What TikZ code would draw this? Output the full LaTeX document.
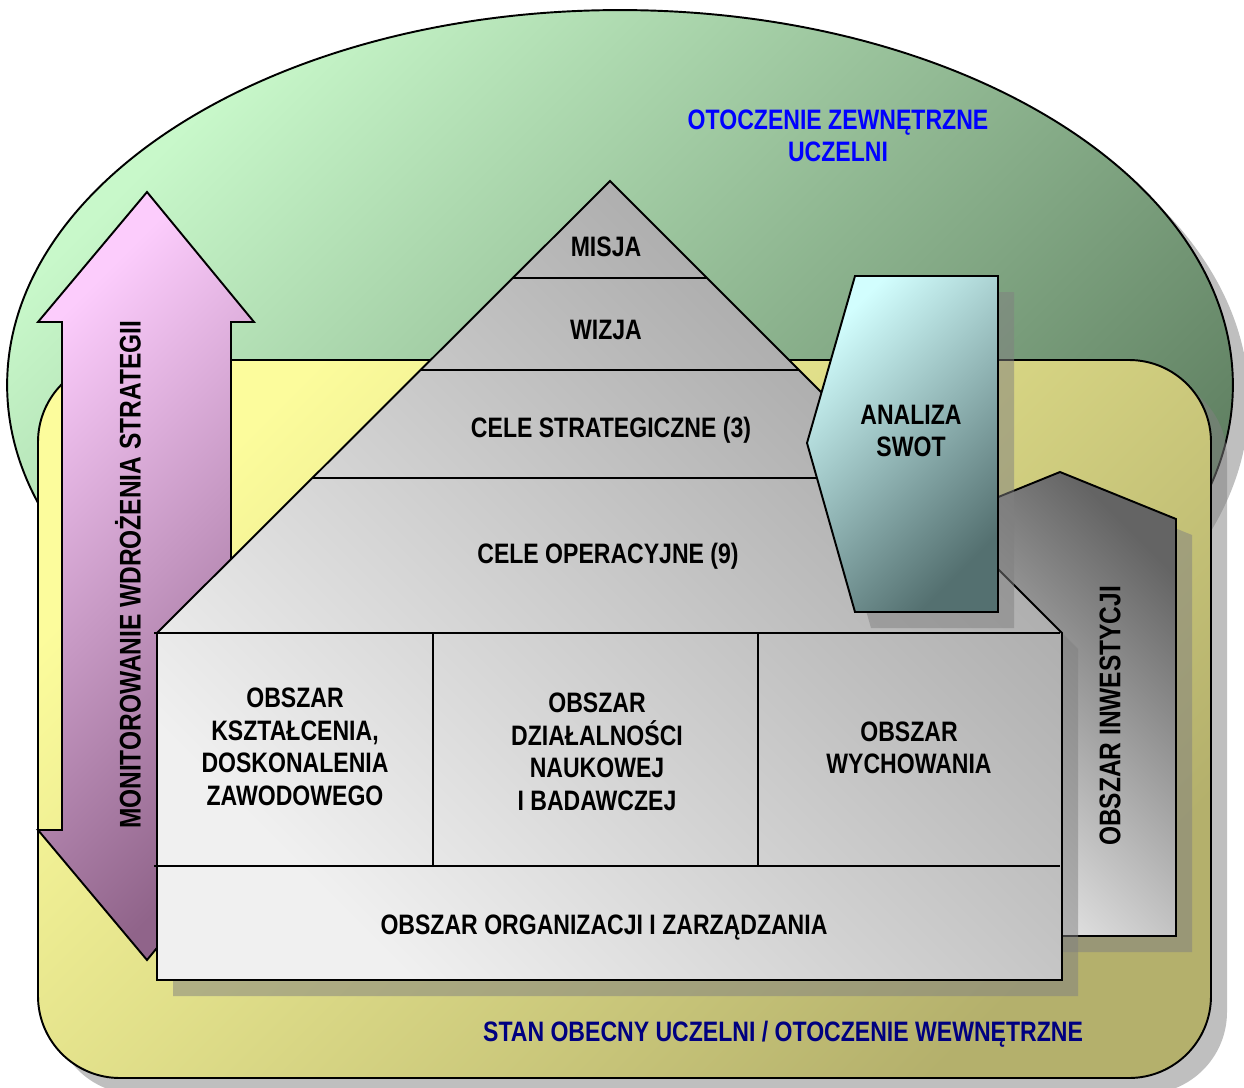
\documentclass[tikz,border=0pt]{standalone}
\usepackage{fontspec}
\setmainfont{Liberation Sans}[FakeStretch=0.82]
\definecolor{envlight}{HTML}{C8F8CA}
\definecolor{envdark}{HTML}{5E7E60}
\definecolor{unilight}{HTML}{FCFC9C}
\definecolor{unidark}{HTML}{B4B06C}
\definecolor{monlight}{HTML}{FCCCFC}
\definecolor{mondark}{HTML}{90648A}
\definecolor{swotlight}{HTML}{D2FEFE}
\definecolor{swotdark}{HTML}{547070}
\definecolor{houselight}{HTML}{F0F0F0}
\definecolor{housedark}{HTML}{A2A2A2}
\definecolor{invlight}{HTML}{E6E6E6}
\definecolor{invdark}{HTML}{646464}
\definecolor{stannavy}{HTML}{000080}
\tikzset{
  shapeline/.style={draw=black, line width=1.1pt, line join=miter},
  shadowfill/.style={fill=gray, opacity=0.5},
  boxtext/.style={font=\fontsize{16}{18.5}\selectfont\bfseries, align=center, inner sep=0pt},
  sidetext/.style={font=\fontsize{17}{20}\selectfont\bfseries, rotate=90, inner sep=0pt}
}
\begin{document}
\begin{tikzpicture}[x=0.02cm,y=-0.02cm]
  \useasboundingbox (0,0) rectangle (1244,1088);
  % otoczenie zewnetrzne
  \fill[shadowfill] (636,401) ellipse [x radius=12.26cm, y radius=7.5cm];
  \path[shapeline, top color=envlight, bottom color=envdark, shading angle=45]
    (620,385) ellipse [x radius=12.26cm, y radius=7.5cm];
  % uczelnia
  \fill[shadowfill, rounded corners=1.64cm] (54,376) rectangle (1227,1094);
  \path[shapeline, rounded corners=1.64cm, top color=unilight, bottom color=unidark, shading angle=45]
    (38,360) rectangle (1211,1078);
  % monitorowanie
  \path[shapeline, top color=monlight, bottom color=mondark, shading angle=45]
    (147,192) -- (254,322) -- (231,322) -- (231,830) -- (254,830) -- (147,960)
    -- (38,830) -- (62,830) -- (62,322) -- (38,322) -- cycle;
  % inwestycje
  \fill[shadowfill] (1076,488) -- (1192,535) -- (1192,952) -- (960,952) -- (960,535) -- cycle;
  \path[shapeline, top color=invdark, bottom color=invlight, shading angle=-45]
    (1060,472) -- (1176,519) -- (1176,936) -- (944,936) -- (944,519) -- cycle;
  % dom
  \fill[shadowfill] (626,197) -- (1078,649) -- (1078,996) -- (173,996) -- (173,649) -- cycle;
  \path[shapeline, top color=housedark, bottom color=houselight, shading angle=-45]
    (610,181) -- (1062,633) -- (1062,980) -- (157,980) -- (157,633) -- cycle;
  \draw[shapeline] (513,278) -- (707,278);
  \draw[shapeline] (421,370) -- (799,370);
  \draw[shapeline] (313,478) -- (907,478);
  \draw[shapeline] (154,633) -- (1060,633);
  \draw[shapeline] (154,866) -- (1060,866);
  \foreach \x in {433,758} % kolumny obszarow
    \draw[shapeline, line width=0.9pt] (\x,633) -- (\x,866);
  % analiza swot
  \fill[shadowfill] (871,292) -- (1014,292) -- (1014,628) -- (871,628) -- (823,459) -- cycle;
  \path[shapeline, top color=swotlight, bottom color=swotdark, shading angle=45]
    (855,276) -- (998,276) -- (998,612) -- (855,612) -- (807,443) -- cycle;
  % napisy
  \node[boxtext, text=blue] (zewn) at (838,136) {OTOCZENIE ZEWNĘTRZNE\\UCZELNI};
  \node[boxtext] (misja) at (606,247) {MISJA};
  \node[boxtext] (wizja) at (606,330) {WIZJA};
  \node[boxtext] (strat) at (611,430) {CELE STRATEGICZNE (3)};
  \node[boxtext] (oper) at (608,556) {CELE OPERACYJNE (9)};
  \node[boxtext] (swot) at (911,431) {ANALIZA\\SWOT};
  \node[boxtext] (kszt) at (295,747) {OBSZAR\\KSZTAŁCENIA,\\DOSKONALENIA\\ZAWODOWEGO};
  \node[boxtext] (nauka) at (597,752) {OBSZAR\\DZIAŁALNOŚCI\\NAUKOWEJ\\I BADAWCZEJ};
  \node[boxtext] (wych) at (909,748) {OBSZAR\\WYCHOWANIA};
  \node[boxtext] (zarz) at (604,928) {OBSZAR ORGANIZACJI I ZARZĄDZANIA};
  \node[boxtext, text=stannavy] (wewn) at (783,1034) {STAN OBECNY UCZELNI / OTOCZENIE WEWNĘTRZNE};
  \node[sidetext] (monit) at (128,575) {MONITOROWANIE WDROŻENIA STRATEGII};
  \node[sidetext] (inwest) at (1110,716) {OBSZAR INWESTYCJI};
\end{tikzpicture}
\end{document}
